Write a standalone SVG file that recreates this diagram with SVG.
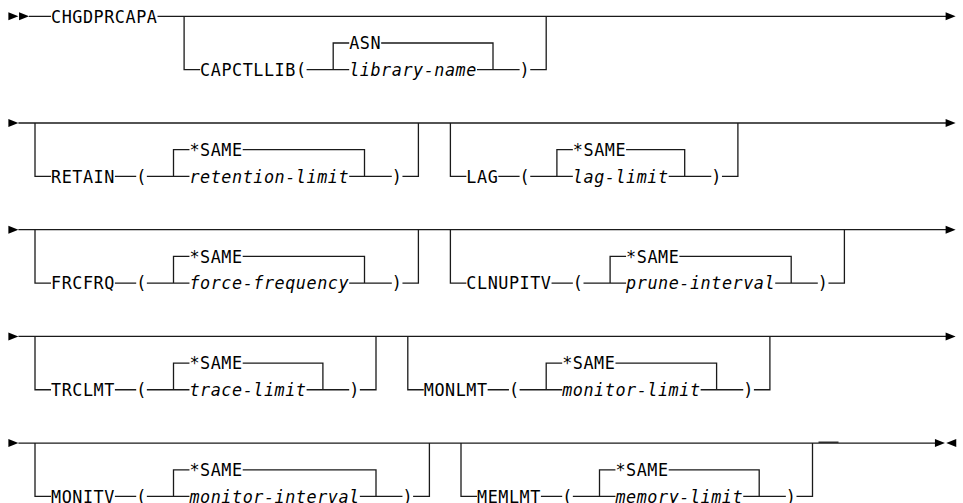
<svg xmlns="http://www.w3.org/2000/svg" width="963" height="503" viewBox="0 0 963 503">
<style>
  .t { font-family: "DejaVu Sans Mono", "Liberation Mono", monospace; font-size: 16.8px; letter-spacing: 0.54px; fill: #000; }
  .v { font-style: italic; }
  .c path { fill: none; stroke: #1a1a1a; stroke-width: 1.3; }
  .c polygon { fill: #000; stroke: none; }
</style>
<rect width="963" height="503" fill="#fff"/>
<g id="connectors" class="c">
  <!-- row 1 -->
  <polygon points="8.4,12.3 18.4,16.3 8.4,20.3"/>
  <polygon points="19.05,12.3 29.05,16.3 19.05,20.3"/>
  <path d="M29 16.3 H51 M157.5 16.3 H946"/>
  <polygon points="945.6,12.3 955.6,16.3 945.6,20.3"/>
  <path d="M184.1 16.3 V69.65 H200.1"/>
  <path d="M306.6 69.65 H349.2 M349.2 42.98 H333.2 V69.65"/>
  <path d="M381.15 42.98 H493 V69.65"/>
  <path d="M477 69.65 H519.6 M530.25 69.65 H546.2 V16.3"/>
  <!-- row 2 -->
  <polygon points="8.4,119 18.4,123 8.4,127"/>
  <path d="M18.4 123 H946"/>
  <polygon points="945.6,119 955.6,123 945.6,127"/>
  <path d="M35 123 V176.35 H51 M114.9 176.35 H136.2 M146.85 176.35 H189.45 M189.45 149.68 H173.5 V176.35"/>
  <path d="M242.7 149.68 H364.5 V176.35 M349.2 176.35 H391.8 M402.45 176.35 H418.4 V123"/>
  <path d="M450.4 123 V176.35 H466.35 M498.3 176.35 H519.6 M530.25 176.35 H572.85 M572.85 149.68 H556.9 V176.35"/>
  <path d="M626.1 149.68 H684.7 V176.35 M668.7 176.35 H711.3 M721.95 176.35 H737.9 V123"/>
  <!-- row 3 -->
  <polygon points="8.4,225.7 18.4,229.7 8.4,233.7"/>
  <path d="M18.4 229.7 H946"/>
  <polygon points="945.6,225.7 955.6,229.7 945.6,233.7"/>
  <path d="M35 229.7 V283.05 H51 M114.9 283.05 H136.2 M146.85 283.05 H189.45 M189.45 256.38 H173.5 V283.05"/>
  <path d="M242.7 256.38 H364.5 V283.05 M349.2 283.05 H391.8 M402.45 283.05 H418.4 V229.7"/>
  <path d="M450.4 229.7 V283.05 H466.35 M551.55 283.05 H572.85 M583.5 283.05 H626.1 M626.1 256.38 H610.1 V283.05"/>
  <path d="M679.35 256.38 H791.2 V283.05 M775.2 283.05 H817.8 M828.45 283.05 H844.4 V229.7"/>
  <!-- row 4 -->
  <polygon points="8.4,332.4 18.4,336.4 8.4,340.4"/>
  <path d="M18.4 336.4 H946"/>
  <polygon points="945.6,332.4 955.6,336.4 945.6,340.4"/>
  <path d="M35 336.4 V389.75 H51 M114.9 389.75 H136.2 M146.85 389.75 H189.45 M189.45 363.08 H173.5 V389.75"/>
  <path d="M242.7 363.08 H322.9 V389.75 M306.6 389.75 H349.2 M359.85 389.75 H376 V336.4"/>
  <path d="M407.8 336.4 V389.75 H423.75 M487.65 389.75 H508.95 M519.6 389.75 H562.2 M562.2 363.08 H546.2 V389.75"/>
  <path d="M615.45 363.08 H716.6 V389.75 M700.65 389.75 H743.25 M753.9 389.75 H769.9 V336.4"/>
  <!-- row 5 -->
  <polygon points="8.4,439.1 18.4,443.1 8.4,447.1"/>
  <path d="M18.4 443.1 H935"/>
  <path d="M818.5 442.2 H838.5"/>
  <polygon points="934.95,439.1 944.95,443.1 934.95,447.1"/>
  <polygon points="956.25,439.1 946.25,443.1 956.25,447.1"/>
  <path d="M35 443.1 V496.45 H51 M114.9 496.45 H136.2 M146.85 496.45 H189.45 M189.45 469.78 H173.5 V496.45"/>
  <path d="M242.7 469.78 H376 V496.45 M359.85 496.45 H402.45 M413.1 496.45 H429.4 V443.1"/>
  <path d="M461 443.1 V496.45 H477 M540.9 496.45 H562.2 M572.85 496.45 H615.45 M615.45 469.78 H599.5 V496.45"/>
  <path d="M668.7 469.78 H759.2 V496.45 M743.25 496.45 H785.85 M796.5 496.45 H812.5 V443.1"/>
</g>
<g id="n-chgdprcapa"><text class="t" x="51" y="22.6">CHGDPRCAPA</text></g>
<g id="n-capctllib"><text class="t" x="200.1" y="75.95">CAPCTLLIB(</text><text class="t" x="349.2" y="49.28">ASN</text><text class="t v" x="349.2" y="75.95">library-name</text><text class="t" x="519.6" y="75.95">)</text></g>
<g id="n-retain"><text class="t" x="51" y="182.65">RETAIN</text><text class="t" x="136.2" y="182.65">(</text><text class="t" x="189.45" y="155.98">*SAME</text><text class="t v" x="189.45" y="182.65">retention-limit</text><text class="t" x="391.8" y="182.65">)</text></g>
<g id="n-lag"><text class="t" x="466.35" y="182.65">LAG</text><text class="t" x="519.6" y="182.65">(</text><text class="t" x="572.85" y="155.98">*SAME</text><text class="t v" x="572.85" y="182.65">lag-limit</text><text class="t" x="711.3" y="182.65">)</text></g>
<g id="n-frcfrq"><text class="t" x="51" y="289.35">FRCFRQ</text><text class="t" x="136.2" y="289.35">(</text><text class="t" x="189.45" y="262.68">*SAME</text><text class="t v" x="189.45" y="289.35">force-frequency</text><text class="t" x="391.8" y="289.35">)</text></g>
<g id="n-clnupitv"><text class="t" x="466.35" y="289.35">CLNUPITV</text><text class="t" x="572.85" y="289.35">(</text><text class="t" x="626.1" y="262.68">*SAME</text><text class="t v" x="626.1" y="289.35">prune-interval</text><text class="t" x="817.8" y="289.35">)</text></g>
<g id="n-trclmt"><text class="t" x="51" y="396.05">TRCLMT</text><text class="t" x="136.2" y="396.05">(</text><text class="t" x="189.45" y="369.38">*SAME</text><text class="t v" x="189.45" y="396.05">trace-limit</text><text class="t" x="349.2" y="396.05">)</text></g>
<g id="n-monlmt"><text class="t" x="423.75" y="396.05">MONLMT</text><text class="t" x="508.95" y="396.05">(</text><text class="t" x="562.2" y="369.38">*SAME</text><text class="t v" x="562.2" y="396.05">monitor-limit</text><text class="t" x="743.25" y="396.05">)</text></g>
<g id="n-monitv"><text class="t" x="51" y="502.75">MONITV</text><text class="t" x="136.2" y="502.75">(</text><text class="t" x="189.45" y="476.08">*SAME</text><text class="t v" x="189.45" y="502.75">monitor-interval</text><text class="t" x="402.45" y="502.75">)</text></g>
<g id="n-memlmt"><text class="t" x="477" y="502.75">MEMLMT</text><text class="t" x="562.2" y="502.75">(</text><text class="t" x="615.45" y="476.08">*SAME</text><text class="t v" x="615.45" y="502.75">memory-limit</text><text class="t" x="785.85" y="502.75">)</text></g>
</svg>
